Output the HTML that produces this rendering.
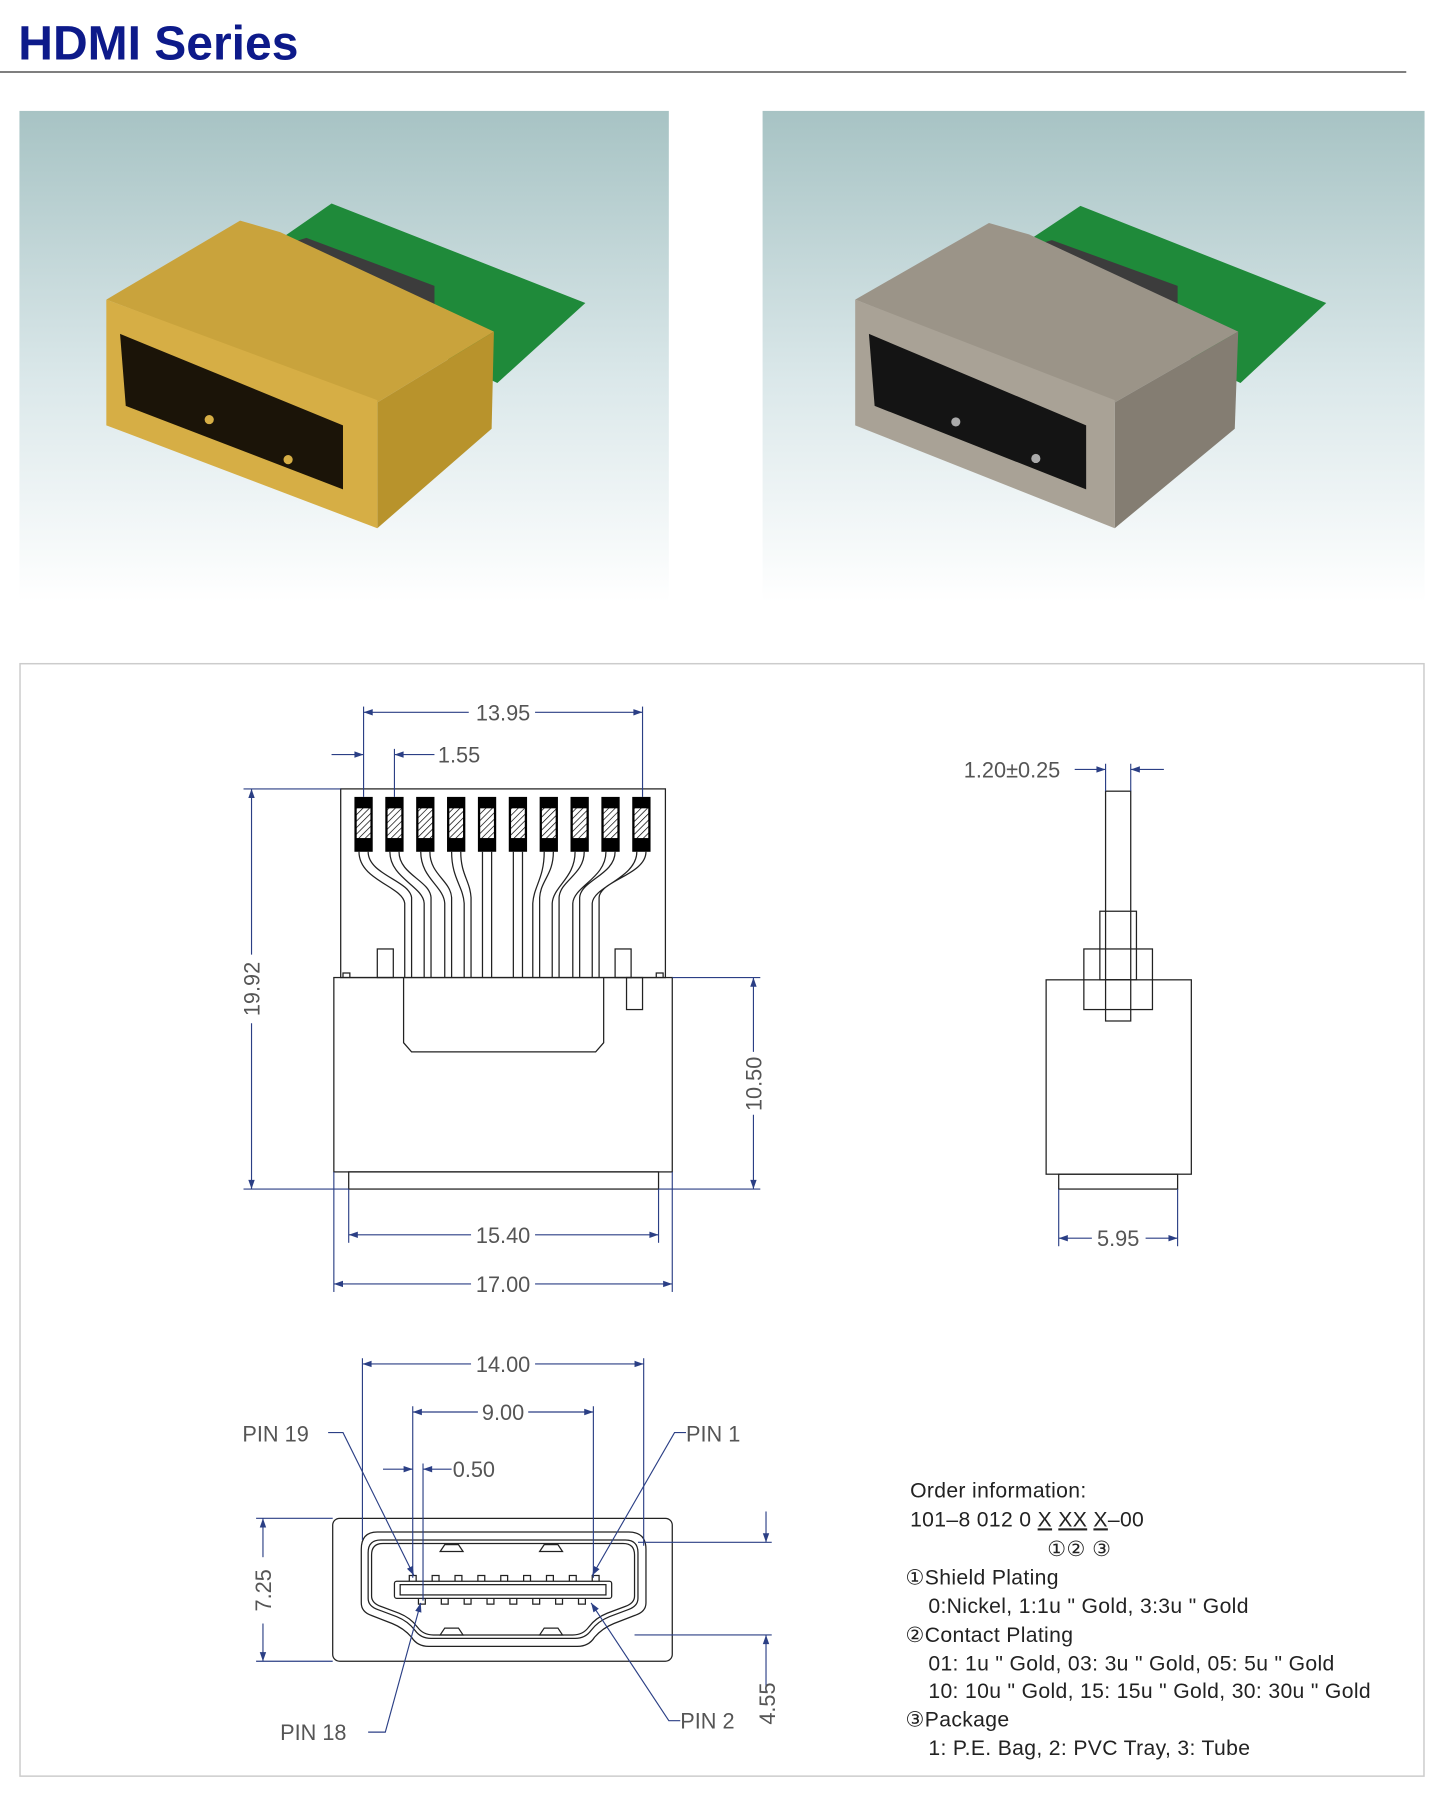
<!DOCTYPE html>
<html><head><meta charset="utf-8"><style>
html,body{margin:0;padding:0;background:#fff}
svg{display:block}
.d{stroke:#2b3f85;stroke-width:1;fill:none}
.o{stroke:#222;stroke-width:1.1;fill:none}
.t{font-family:"Liberation Sans",sans-serif;font-size:19px;fill:#555;font-weight:normal}
.oi{font-family:"Liberation Sans",sans-serif;font-size:18.5px;fill:#222;letter-spacing:0.3px}
</style></head><body>
<svg width="1452" height="1798" viewBox="0 0 1270 1572.6" xmlns="http://www.w3.org/2000/svg">
<defs>
<linearGradient id="bg" x1="0" y1="0" x2="0" y2="1">
<stop offset="0" stop-color="#a7c3c4"/><stop offset="0.55" stop-color="#dbe8ea"/><stop offset="1" stop-color="#ffffff"/></linearGradient>
<marker id="a" viewBox="0 0 10 10" refX="10" refY="5" markerWidth="12" markerHeight="8" orient="auto-start-reverse" markerUnits="userSpaceOnUse"><path d="M0,1.5 L10,5 L0,8.5z" fill="#2b3f85"/></marker>
<pattern id="h" width="4" height="4" patternUnits="userSpaceOnUse" patternTransform="rotate(45)"><rect width="4" height="4" fill="#fff"/><line x1="0" y1="0" x2="0" y2="4" stroke="#000" stroke-width="1.2"/></pattern>
</defs>
<text x="16" y="52" font-family="Liberation Sans,sans-serif" font-weight="bold" font-size="42" fill="#0d1a8a">HDMI Series</text>
<line x1="0" y1="63" x2="1230" y2="63" stroke="#555" stroke-width="1.3"/>

<rect x="17" y="97" width="568" height="430" fill="url(#bg)"/>
<rect x="667" y="97" width="579" height="430" fill="url(#bg)"/>
<g>
<polygon points="215,230 290,178 512,265 435,335" fill="#1f8a3a"/>
<polygon points="213,225 268,208 380,250 380,290 330,305 213,258" fill="#3c3c3c"/>
<polygon points="93,262 210,193 245,203 432,290 330,352" fill="#c9a33c"/>
<polygon points="330,352 432,290 430,375 330,462" fill="#b8932c"/>
<polygon points="93,262 330,350 330,462 93,372" fill="#d6ae45"/>
<polygon points="105,292 300,372 300,428 110,355" fill="#1b1408"/>
<circle cx="183" cy="367" r="4" fill="#d6ae45"/><circle cx="252" cy="402" r="4" fill="#d6ae45"/>
</g>
<g>
<polygon points="870,230 945,180 1160,265 1085,335" fill="#1f8a3a"/>
<polygon points="868,225 920,210 1030,250 1030,292 980,305 868,258" fill="#3c3c3c"/>
<polygon points="748,262 865,195 900,205 1083,290 975,352" fill="#9b9488"/>
<polygon points="975,352 1083,290 1080,375 975,462" fill="#847d72"/>
<polygon points="748,262 975,350 975,462 748,372" fill="#a9a296"/>
<polygon points="760,292 950,372 950,428 765,355" fill="#141414"/>
<circle cx="836" cy="369" r="4" fill="#aaa"/><circle cx="906" cy="401" r="4" fill="#aaa"/>
</g>

<rect x="17.5" y="580.5" width="1228" height="973" fill="none" stroke="#ccc" stroke-width="1.3"/>

<rect x="298" y="690" width="284" height="165" class="o"/>
<g fill="#000">
<rect x="310" y="697" width="16" height="48"/><rect x="337" y="697" width="16" height="48"/><rect x="364" y="697" width="16" height="48"/><rect x="391" y="697" width="16" height="48"/><rect x="418" y="697" width="16" height="48"/><rect x="445" y="697" width="16" height="48"/><rect x="472" y="697" width="16" height="48"/><rect x="499" y="697" width="16" height="48"/><rect x="526" y="697" width="16" height="48"/><rect x="553" y="697" width="16" height="48"/>
</g>
<g fill="url(#h)">
<rect x="312" y="707" width="12" height="26"/><rect x="339" y="707" width="12" height="26"/><rect x="366" y="707" width="12" height="26"/><rect x="393" y="707" width="12" height="26"/><rect x="420" y="707" width="12" height="26"/><rect x="447" y="707" width="12" height="26"/><rect x="474" y="707" width="12" height="26"/><rect x="501" y="707" width="12" height="26"/><rect x="528" y="707" width="12" height="26"/><rect x="555" y="707" width="12" height="26"/>
</g>
<g class="o" stroke-width="0.9">
<path d="M314,745 C314,770 352,775 354,790 V855 M322,745 C322,765 358,770 360,785 V855"/>
<path d="M341,745 C341,768 370,775 371,790 V855 M349,745 C349,765 376,770 377,785 V855"/>
<path d="M368,745 C368,768 388,775 389,790 V855 M376,745 C376,765 394,770 395,785 V855"/>
<path d="M395,745 C395,768 405,775 406,790 V855 M403,745 C403,765 411,770 412,785 V855"/>
<path d="M422,745 V855 M430,745 V855"/>
<path d="M449,745 V855 M457,745 V855"/>
<path d="M476,745 C476,768 467,775 466,790 V855 M484,745 C484,765 473,770 472,785 V855"/>
<path d="M503,745 C503,768 484,775 483,790 V855 M511,745 C511,765 490,770 489,785 V855"/>
<path d="M530,745 C530,768 502,775 501,790 V855 M538,745 C538,765 508,770 507,785 V855"/>
<path d="M557,745 C557,768 519,775 518,790 V855 M565,745 C565,765 525,770 524,785 V855"/>
</g>
<rect x="330" y="830" width="14" height="25" class="o"/><rect x="538" y="830" width="14" height="25" class="o"/>
<rect x="292" y="855" width="296" height="170" class="o"/>
<rect x="305" y="1025" width="271" height="15" class="o"/>
<path d="M353,855 V912 L360,920 H521 L528,912 V855" class="o"/>
<rect x="548" y="855" width="14" height="28" class="o"/>
<path d="M300,855 v-4 h6 v4 M574,855 v-4 h6 v4" class="o"/>

<line x1="318" y1="618" x2="318" y2="697" class="d"/><line x1="562" y1="618" x2="562" y2="697" class="d"/>
<line x1="318" y1="623" x2="410" y2="623" class="d" marker-start="url(#a)"/><line x1="468" y1="623" x2="562" y2="623" class="d" marker-end="url(#a)"/>
<text x="440" y="630" class="t" text-anchor="middle">13.95</text>
<line x1="345" y1="655" x2="345" y2="697" class="d"/>
<line x1="290" y1="660" x2="318" y2="660" class="d" marker-end="url(#a)"/>
<line x1="380" y1="660" x2="345" y2="660" class="d" marker-end="url(#a)"/>
<text x="383" y="667" class="t">1.55</text>
<line x1="213" y1="690" x2="298" y2="690" class="d"/><line x1="213" y1="1040" x2="305" y2="1040" class="d"/>
<line x1="220" y1="690" x2="220" y2="835" class="d" marker-start="url(#a)"/><line x1="220" y1="895" x2="220" y2="1040" class="d" marker-end="url(#a)"/>
<text transform="translate(227,865) rotate(-90)" class="t" text-anchor="middle">19.92</text>
<line x1="588" y1="855" x2="665" y2="855" class="d"/><line x1="576" y1="1040" x2="665" y2="1040" class="d"/>
<line x1="659" y1="855" x2="659" y2="920" class="d" marker-start="url(#a)"/><line x1="659" y1="975" x2="659" y2="1040" class="d" marker-end="url(#a)"/>
<text transform="translate(666,948) rotate(-90)" class="t" text-anchor="middle">10.50</text>
<line x1="305" y1="1040" x2="305" y2="1087" class="d"/><line x1="576" y1="1040" x2="576" y2="1087" class="d"/>
<line x1="292" y1="1025" x2="292" y2="1130" class="d"/><line x1="588" y1="1025" x2="588" y2="1130" class="d"/>
<line x1="305" y1="1080" x2="412" y2="1080" class="d" marker-start="url(#a)"/><line x1="468" y1="1080" x2="576" y2="1080" class="d" marker-end="url(#a)"/>
<text x="440" y="1087" class="t" text-anchor="middle">15.40</text>
<line x1="292" y1="1123" x2="412" y2="1123" class="d" marker-start="url(#a)"/><line x1="468" y1="1123" x2="588" y2="1123" class="d" marker-end="url(#a)"/>
<text x="440" y="1130" class="t" text-anchor="middle">17.00</text>

<rect x="967" y="692" width="22" height="165" class="o"/>
<rect x="962" y="797" width="32" height="60" class="o"/>
<rect x="948" y="830" width="60" height="53" class="o"/>
<rect x="967" y="857" width="22" height="36" class="o"/>
<rect x="915" y="857" width="127" height="170" class="o"/>
<rect x="926" y="1027" width="104" height="13" class="o"/>
<line x1="967" y1="668" x2="967" y2="692" class="d"/><line x1="989" y1="668" x2="989" y2="692" class="d"/>
<line x1="940" y1="673" x2="967" y2="673" class="d" marker-end="url(#a)"/><line x1="1018" y1="673" x2="989" y2="673" class="d" marker-end="url(#a)"/>
<text x="843" y="680" class="t">1.20±0.25</text>
<line x1="926" y1="1040" x2="926" y2="1090" class="d"/><line x1="1030" y1="1040" x2="1030" y2="1090" class="d"/>
<line x1="926" y1="1083" x2="955" y2="1083" class="d" marker-start="url(#a)"/><line x1="1002" y1="1083" x2="1030" y2="1083" class="d" marker-end="url(#a)"/>
<text x="978" y="1090" class="t" text-anchor="middle">5.95</text>

<rect x="291" y="1328" width="297" height="125" rx="6" class="o"/>
<path d="M330,1340 H550 Q565,1340 565,1355 V1402 Q565,1410 555,1413 L537,1420 Q527,1424 520,1432 Q515,1440 505,1440 H375 Q365,1440 360,1432 Q353,1424 343,1420 L325,1413 Q316,1410 316,1402 V1355 Q316,1340 330,1340Z" class="o"/>
<path d="M333,1347 H547 Q558,1347 558,1358 V1398 Q558,1405 549,1408 L533,1414 Q523,1418 517,1426 Q512,1433 503,1433 H377 Q368,1433 363,1426 Q357,1418 347,1414 L331,1408 Q322,1405 322,1398 V1358 Q322,1347 333,1347Z" class="o"/>
<path d="M335,1350 H545 Q555,1350 555,1360 V1396 Q555,1402 547,1405 L531,1411 Q521,1415 515,1423 Q510,1430 501,1430 H379 Q370,1430 365,1423 Q359,1415 349,1411 L333,1405 Q325,1402 325,1396 V1360 Q325,1350 335,1350Z" class="o" stroke-width="0.8"/>
<rect x="345" y="1383" width="190" height="15" rx="2" class="o"/>
<rect x="350" y="1386" width="180" height="9" class="o" stroke-width="0.8"/>
<g class="o" stroke-width="0.9">
<path d="M385,1357 l4,-6 h12 l4,6z M472,1357 l4,-6 h12 l4,6z M385,1430 l4,-6 h12 l4,6z M472,1430 l4,-6 h12 l4,6z"/>
<path d="M358,1383 v-5 h6 v5 M378,1383 v-5 h6 v5 M398,1383 v-5 h6 v5 M418,1383 v-5 h6 v5 M438,1383 v-5 h6 v5 M458,1383 v-5 h6 v5 M478,1383 v-5 h6 v5 M498,1383 v-5 h6 v5 M518,1383 v-5 h6 v5"/>
<path d="M366,1398 v5 h6 v-5 M386,1398 v5 h6 v-5 M406,1398 v5 h6 v-5 M426,1398 v5 h6 v-5 M446,1398 v5 h6 v-5 M466,1398 v5 h6 v-5 M486,1398 v5 h6 v-5 M506,1398 v5 h6 v-5"/>
</g>
<line x1="317" y1="1188" x2="317" y2="1347" class="d"/><line x1="563" y1="1188" x2="563" y2="1352" class="d"/>
<line x1="317" y1="1193" x2="412" y2="1193" class="d" marker-start="url(#a)"/><line x1="468" y1="1193" x2="563" y2="1193" class="d" marker-end="url(#a)"/>
<text x="440" y="1200" class="t" text-anchor="middle">14.00</text>
<line x1="361" y1="1230" x2="361" y2="1380" class="d"/><line x1="519" y1="1230" x2="519" y2="1380" class="d"/>
<line x1="361" y1="1235" x2="418" y2="1235" class="d" marker-start="url(#a)"/><line x1="462" y1="1235" x2="519" y2="1235" class="d" marker-end="url(#a)"/>
<text x="440" y="1242" class="t" text-anchor="middle">9.00</text>
<line x1="370" y1="1280" x2="370" y2="1400" class="d"/>
<line x1="335" y1="1285" x2="361" y2="1285" class="d" marker-end="url(#a)"/><line x1="395" y1="1285" x2="370" y2="1285" class="d" marker-end="url(#a)"/>
<text x="396" y="1292" class="t">0.50</text>
<line x1="224" y1="1328" x2="291" y2="1328" class="d"/><line x1="224" y1="1453" x2="291" y2="1453" class="d"/>
<line x1="230" y1="1328" x2="230" y2="1362" class="d" marker-start="url(#a)"/><line x1="230" y1="1420" x2="230" y2="1453" class="d" marker-end="url(#a)"/>
<text transform="translate(237,1391) rotate(-90)" class="t" text-anchor="middle">7.25</text>
<line x1="558" y1="1349" x2="675" y2="1349" class="d"/><line x1="555" y1="1430" x2="675" y2="1430" class="d"/>
<line x1="670" y1="1322" x2="670" y2="1349" class="d" marker-end="url(#a)"/>
<line x1="670" y1="1480" x2="670" y2="1430" class="d" marker-end="url(#a)"/>
<text transform="translate(678,1490) rotate(-90)" class="t" text-anchor="middle">4.55</text>
<text x="212" y="1261" class="t" font-size="20">PIN 19</text>
<polyline points="287,1253 300,1253 362,1378" class="d" marker-end="url(#a)"/>
<text x="600" y="1261" class="t" font-size="20">PIN 1</text>
<polyline points="600,1253 590,1253 518,1378" class="d" marker-end="url(#a)"/>
<text x="245" y="1522" class="t" font-size="20">PIN 18</text>
<polyline points="322,1515 337,1515 368,1402" class="d" marker-end="url(#a)"/>
<text x="595" y="1512" class="t" font-size="20">PIN 2</text>
<polyline points="595,1505 585,1505 517,1402" class="d" marker-end="url(#a)"/>

<g class="oi">
<text x="796" y="1310">Order information:</text>
<text x="796" y="1335">101–8 012 0 <tspan text-decoration="underline">X</tspan> <tspan text-decoration="underline">XX</tspan> <tspan text-decoration="underline">X</tspan>–00</text>
<text x="916" y="1361">①② ③</text>
<text x="792" y="1386">①Shield Plating</text>
<text x="812" y="1411">0:Nickel, 1:1u " Gold, 3:3u " Gold</text>
<text x="792" y="1436">②Contact Plating</text>
<text x="812" y="1461">01: 1u " Gold, 03: 3u " Gold, 05: 5u " Gold</text>
<text x="812" y="1485">10: 10u " Gold, 15: 15u " Gold, 30: 30u " Gold</text>
<text x="792" y="1510">③Package</text>
<text x="812" y="1535">1: P.E. Bag, 2: PVC Tray, 3: Tube</text>
</g>
</svg>
</body></html>
